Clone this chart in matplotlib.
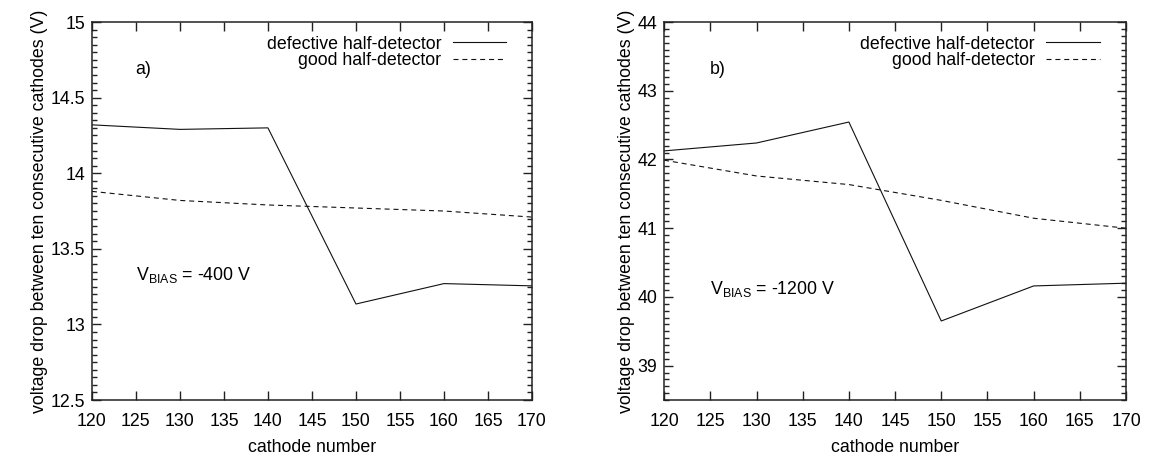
import matplotlib
matplotlib.use("Agg")
import matplotlib.pyplot as plt
from matplotlib.ticker import MultipleLocator

plt.rcParams['font.family'] = ['Liberation Sans', 'DejaVu Sans']
plt.rcParams['font.size'] = 12.8

# cathode numbers (x)
cathode = [120, 130, 140, 150, 160, 170]

# a) V_BIAS = -400 V
defective_400 = [14.32, 14.29, 14.30, 13.135, 13.27, 13.255]
good_400 = [13.88, 13.82, 13.79, 13.77, 13.75, 13.71]

# b) V_BIAS = -1200 V
defective_1200 = [42.125, 42.24, 42.545, 39.65, 40.16, 40.20]
good_1200 = [41.99, 41.76, 41.635, 41.405, 41.145, 41.00]

labels = ['defective half-detector', 'good half-detector']
ylabel = 'voltage drop between ten consecutive cathodes (V)'
xlabel = 'cathode number'

fig = plt.figure(figsize=(11.49, 4.59), dpi=100)
ax1 = fig.add_axes([0.080, 0.1285, 0.383, 0.8235])
ax2 = fig.add_axes([0.578, 0.1285, 0.402, 0.8235])

panels = [
    (ax1, defective_400, good_400, (12.5, 15), 0.5, 0.05, 'a)', r'V$_\mathregular{BIAS}$ = -400 V', 0.33),
    (ax2, defective_1200, good_1200, (38.5, 44), 1, 0.1, 'b)', r'V$_\mathregular{BIAS}$ = -1200 V', 0.295),
]

for ax, dfc, gd, ylim, major, minor, tag, bias, bias_y in panels:
    ax.plot(cathode, dfc, color='#111111', lw=0.8, label=labels[0])
    ax.plot(cathode, gd, color='#111111', lw=0.8, linestyle=(0, (4.5, 3.5)), label=labels[1])
    ax.set_xlim(120, 170)
    ax.set_ylim(*ylim)
    ax.xaxis.set_major_locator(MultipleLocator(5))
    ax.yaxis.set_major_locator(MultipleLocator(major))
    ax.yaxis.set_minor_locator(MultipleLocator(minor))
    ax.yaxis.set_major_formatter(matplotlib.ticker.FormatStrFormatter('%g'))
    ax.tick_params(which='both', direction='in', top=True, right=True, color='#222222')
    ax.tick_params(which='major', length=6.5, width=1.0, pad=5)
    ax.tick_params(which='minor', length=3.5, width=1.0)
    ax.tick_params(axis='x', which='major', pad=9)
    ax.tick_params(axis='x', which='minor', top=False, bottom=False)
    for s in ax.spines.values():
        s.set_linewidth(1.1)
        s.set_color('#222222')
    ax.set_xlabel(xlabel, labelpad=7)
    ax.set_ylabel(ylabel, labelpad=2)
    ax.text(0.098, 0.875, tag, transform=ax.transAxes, va='center', ha='left')
    ax.text(0.1, bias_y, bias, transform=ax.transAxes, va='center', ha='left')
    leg = ax.legend(loc='upper right', frameon=False, markerfirst=False,
                    handlelength=3.0, handletextpad=0.65, labelspacing=-0.04,
                    borderaxespad=0.3, bbox_to_anchor=(0.97, 0.997))
    for col in leg._legend_handle_box.get_children():
        col.align = 'right'

fig.savefig('out.png', dpi=100)
